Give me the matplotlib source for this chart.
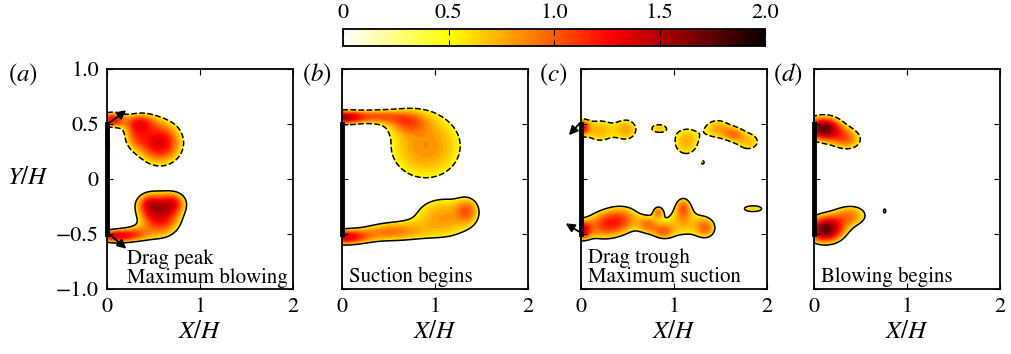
import numpy as np
import matplotlib
matplotlib.use("Agg")
import matplotlib.pyplot as plt

plt.rcParams['font.family'] = ['STIXGeneral', 'DejaVu Serif']
plt.rcParams['mathtext.fontset'] = 'stix'
plt.rcParams['axes.unicode_minus'] = True

# vortex patches for each phase: (x0, y0, sx, sy, amplitude)
a_upper = [(0.05, 0.54, 0.10, 0.05, 1.2), (0.57, 0.33, 0.18, 0.15, 1.35),
           (0.35, 0.52, 0.12, 0.06, 0.7), (0.30, 0.40, 0.10, 0.10, 0.6)]
a_lower = [(0.08, -0.52, 0.14, 0.045, 1.2), (0.57, -0.34, 0.17, 0.14, 1.3),
           (0.72, -0.21, 0.10, 0.07, 0.7), (0.45, -0.22, 0.10, 0.07, 0.65),
           (0.30, -0.50, 0.12, 0.05, 0.6), (0.015, 0.32, 0.012, 0.07, 0.6)]

b_upper = [(0.00, 0.56, 0.15, 0.045, 1.3), (0.35, 0.57, 0.20, 0.045, 0.75),
           (0.90, 0.30, 0.36, 0.28, 0.85), (0.70, 0.52, 0.15, 0.07, 0.5)]
b_lower = [(0.00, -0.53, 0.20, 0.05, 1.3), (0.50, -0.48, 0.25, 0.07, 0.8),
           (1.10, -0.35, 0.30, 0.17, 0.8), (1.35, -0.28, 0.08, 0.08, 0.5)]

c_upper = [(0.00, 0.47, 0.06, 0.05, 1.1), (0.20, 0.44, 0.14, 0.10, 0.72),
           (0.50, 0.45, 0.10, 0.09, 0.7), (0.83, 0.46, 0.09, 0.045, 0.62),
           (1.13, 0.34, 0.13, 0.12, 0.75), (1.31, 0.15, 0.02, 0.02, 0.54),
           (1.47, 0.46, 0.12, 0.08, 0.72), (1.64, 0.41, 0.08, 0.05, 0.55),
           (1.80, 0.34, 0.12, 0.08, 0.68)]
c_lower = [(0.00, -0.47, 0.07, 0.06, 1.1), (0.22, -0.43, 0.17, 0.10, 0.85),
           (0.45, -0.36, 0.16, 0.10, 0.8), (0.72, -0.42, 0.08, 0.06, 0.62),
           (0.83, -0.30, 0.04, 0.04, 0.62), (0.88, -0.48, 0.08, 0.05, 0.62),
           (1.10, -0.40, 0.20, 0.12, 0.7), (1.10, -0.25, 0.06, 0.07, 0.65),
           (1.35, -0.45, 0.08, 0.07, 0.65), (1.85, -0.27, 0.14, 0.04, 0.62)]

d_upper = [(0.10, 0.46, 0.14, 0.08, 1.7), (0.36, 0.36, 0.13, 0.08, 0.85)]
d_lower = [(0.12, -0.46, 0.15, 0.09, 1.7), (0.40, -0.33, 0.15, 0.08, 0.8),
           (0.76, -0.29, 0.02, 0.03, 0.55)]

panel_tags = ['a', 'b', 'c', 'd']
panel_text = ['Drag peak\nMaximum blowing', 'Suction begins',
              'Drag trough\nMaximum suction', 'Blowing begins']
text_xy = [(0.21, -0.95), (0.08, -0.94), (0.08, -0.94), (0.07, -0.94)]
upper_fields = [a_upper, b_upper, c_upper, d_upper]
lower_fields = [a_lower, b_lower, c_lower, d_lower]

# jet direction arrows (start, end) per panel
arrows = {0: [((0.01, 0.50), (0.23, 0.64)), ((0.01, -0.49), (0.23, -0.65))],
          2: [((0.0, 0.52), (-0.15, 0.38)), ((0.0, -0.49), (-0.19, -0.39))]}

cbar_ticks = [0, 0.5, 1.0, 1.5, 2.0]
cbar_labels = ['0', '0.5', '1.0', '1.5', '2.0']

x = np.linspace(0, 2, 401)
y = np.linspace(-1, 1, 401)
X, Y = np.meshgrid(x, y)


def field(blobs):
    w = np.zeros_like(X)
    for x0, y0, sx, sy, amp in blobs:
        w += amp * np.exp(-0.5 * ((X - x0) / sx) ** 2 - 0.5 * ((Y - y0) / sy) ** 2)
    return w


levels = np.arange(0.5, 2.001, 0.05)
W, H = 1011, 354
fig = plt.figure(figsize=(W / 100, H / 100), dpi=100)
lefts = [107, 342, 581, 814]
tag_x = [23, 317, 553, 788]
fs = 16

for i in range(4):
    ax = fig.add_axes([lefts[i] / W, (H - 289) / H, 186 / W, 220 / H])
    for blobs, ls in ((upper_fields[i], '--'), (lower_fields[i], '-')):
        w = field(blobs)
        ax.contourf(X, Y, w, levels=levels, cmap='hot_r', vmin=0, vmax=2, extend='max')
        ax.contour(X, Y, w, levels=[0.5], colors='k', linewidths=1.1, linestyles=ls)
    ax.plot([0, 0], [-0.5, 0.5], color='k', lw=3.5, clip_on=False, zorder=5)
    for (x0, y0), (x1, y1) in arrows.get(i, []):
        ax.annotate('', xy=(x1, y1), xytext=(x0, y0),
                    arrowprops=dict(arrowstyle='-|>', color='k', lw=1.3, mutation_scale=13),
                    annotation_clip=False, zorder=6)
    ax.set_xlim(0, 2)
    ax.set_ylim(-1, 1)
    ax.set_xticks([0, 1, 2])
    ax.set_xticklabels(['0', '1', '2'])
    ax.set_yticks([-1, -0.5, 0, 0.5, 1])
    ax.tick_params(direction='in', top=True, right=True, length=4, width=0.8,
                   labelsize=fs, pad=6)
    if i == 0:
        ax.set_yticklabels(['\u22121.0', '\u22120.5', '0', '0.5', '1.0'])
        fig.text(28 / W, 1 - 178 / H, '$Y/H$', fontsize=fs + 2, ha='center', va='center')
    else:
        ax.set_yticklabels([])
    for s in ax.spines.values():
        s.set_linewidth(1.3)
    ax.set_xlabel('$X/H$', fontsize=fs + 2, labelpad=2)
    tx, ty = text_xy[i]
    ax.text(tx, ty, panel_text[i], fontsize=fs - 1, ha='left', va='baseline',
            linespacing=0.95, clip_on=False)
    fig.text(tag_x[i] / W, 1 - 75 / H, '$(' + panel_tags[i] + ')$', fontsize=fs + 2,
             ha='center', va='center')

cax = fig.add_axes([343 / W, (H - 46) / H, 422 / W, 17 / H])
cb = fig.colorbar(plt.cm.ScalarMappable(norm=plt.Normalize(0, 2), cmap='hot_r'),
                  cax=cax, orientation='horizontal', ticks=cbar_ticks)
cb.ax.xaxis.set_ticks_position('top')
cb.set_ticklabels(cbar_labels)
cb.ax.tick_params(direction='in', length=4, width=0.8, labelsize=fs, top=True, bottom=True,
                  labelbottom=False, labeltop=True, pad=4)
cb.outline.set_linewidth(1.3)

fig.savefig('out.png', dpi=100)
